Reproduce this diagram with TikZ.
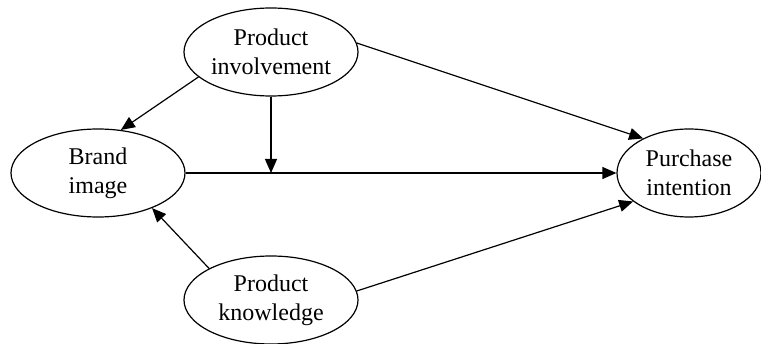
\documentclass[tikz,border=0pt]{standalone}
\usepackage{fontspec}
\setmainfont{Liberation Serif}
\usetikzlibrary{shapes.geometric,arrows.meta}
\begin{document}
\begin{tikzpicture}[x=1pt,y=-1pt,
  construct/.style={draw, ellipse, line width=1.2pt, inner sep=0pt,
    minimum width=174pt, minimum height=88pt, align=center,
    font=\fontsize{24pt}{29pt}\selectfont},
  conn/.style={line width=1.2pt, -{Triangle[length=14pt,width=12pt]}}]
\useasboundingbox (0,0) rectangle (761,344);
\node[construct] (PI) at (271,52) {Product\\involvement};
\node[construct] (BI) at (98,173) {Brand\\image};
\node[construct, minimum width=144pt] (PU) at (689,173) {Purchase\\intention};
\node[construct] (PK) at (271,300) {Product\\knowledge};
\coordinate (M) at (271,173);
\draw[conn] (PI.199) -- (BI.62);
\draw[conn] (PK.153) -- (BI.327);
\draw[conn] (PI.6) -- (PU.143);
\draw[conn] (PK.6) -- (PU.207);
\draw[conn] (BI.east) -- (PU.west);
\draw[conn] (PI.south) -- (M);
\end{tikzpicture}
\end{document}
